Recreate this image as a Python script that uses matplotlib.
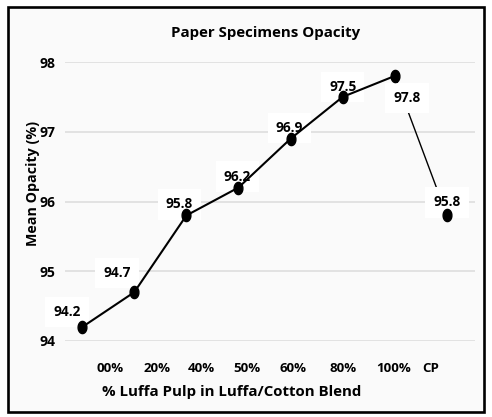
import matplotlib
matplotlib.use("Agg")
import matplotlib.pyplot as plt
import numpy as np
from matplotlib.patches import Rectangle
from matplotlib.path import Path

plt.rcParams['font.family'] = ['Open Sans', 'DejaVu Sans']

# ---- data ----
opacity = [94.2, 94.7, 95.8, 96.2, 96.9, 97.5, 97.8, 95.8]
value_labels = ["94.2", "94.7", "95.8", "96.2", "96.9", "97.5", "97.8", "95.8"]
tick_labels = ["00%", "20%", "40%", "50%", "60%", "80%", "100%", "CP"]
y_ticks = [94, 95, 96, 97, 98]

# ---- layout ----
W, H, DPI = 492, 417, 100
x = np.arange(len(opacity))
tick_pos = [0.54, 1.44, 2.28, 3.17, 4.05, 5.0, 5.97, 6.68]   # as drawn in the reference
label_off = [(-15, 15), (-17, 19), (-7, 11), (-1, 11), (-1, 11), (0, 10), (12, -22), (0, 13)]

fig = plt.figure(figsize=(W / DPI, H / DPI), dpi=DPI, facecolor='white')
fig.patches.append(Rectangle((8 / W, 1 - 412 / H), 475.5 / W, 405 / H,
                             transform=fig.transFigure, facecolor='#fafafa',
                             edgecolor='black', linewidth=1.9, zorder=-5))

ax = fig.add_axes([65 / W, 1 - 341 / H, 410 / W, 279 / H])
ax.set_zorder(2)
ax.set_facecolor('none')
ax.set_xlim(-0.33, 7.54)
ax.set_ylim(94, 98)
for s in ax.spines.values():
    s.set_visible(False)
ax.set_yticks(y_ticks)
ax.grid(axis='y', color='#dedede', linewidth=1.2, zorder=0)
ax.set_axisbelow(True)

ax.set_xticks(tick_pos)
ax.set_xticklabels(tick_labels, fontsize=9.5, fontweight='bold')
ax.tick_params(axis='x', length=0, pad=15)
ax.tick_params(axis='y', length=0, pad=7, labelsize=10)
for t in ax.get_yticklabels():
    t.set_fontweight('bold')

# ellipse marker
th = np.linspace(0, 2 * np.pi, 40)
ell = Path(np.column_stack([0.72 * np.cos(th), np.sin(th)]))

# thin segment to control point
ax.plot(x[6:8], opacity[6:8], color='black', linewidth=1.0, zorder=2, clip_on=False)
# main line
ax.plot(x[:7], opacity[:7], color='black', linewidth=1.5, zorder=4, clip_on=False)
ax.plot(x, opacity, linestyle='none', marker=ell, markersize=8.8,
        color='black', zorder=5, clip_on=False)

for xi, yi, lab, (dx, dy) in zip(x, opacity, value_labels, label_off):
    ax.annotate(lab, (xi, yi), xytext=(dx, dy), textcoords='offset pixels',
                ha='center', va='center', fontsize=9.8, fontweight='bold',
                bbox=dict(boxstyle='square,pad=0.6', facecolor='white', edgecolor='none'),
                zorder=3)

fig.text(266 / W, 1 - 33 / H, "Paper Specimens Opacity", ha='center', va='center',
         fontsize=10.8, fontweight='bold')
fig.text(33 / W, 1 - 183 / H, "Mean Opacity (%)", ha='center', va='center',
         rotation=90, fontsize=10.3, fontweight='bold')
fig.text(232 / W, 1 - 392 / H, "% Luffa Pulp in Luffa/Cotton Blend", ha='center',
         va='center', fontsize=10.8, fontweight='bold')

fig.savefig("out.png", dpi=DPI, facecolor='white')
